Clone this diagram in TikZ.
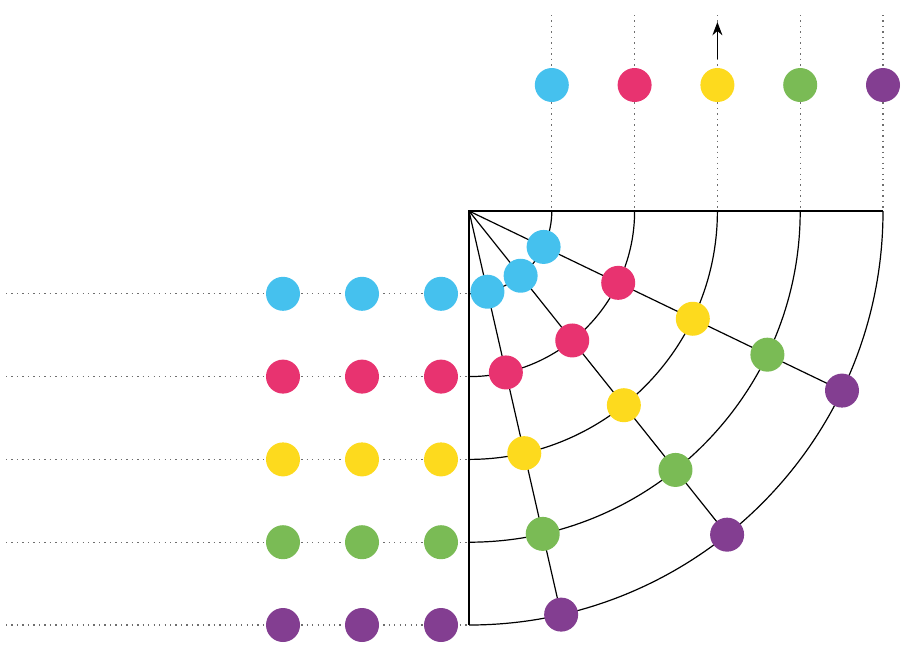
\documentclass[tikz,border=0pt]{standalone}
\usepackage{amsmath}
\usetikzlibrary{calc}
\usetikzlibrary{arrows.meta}

\begin{document}
\begin{tikzpicture}[x=0.75pt,y=0.75pt,yscale=-1,xscale=1,
  ball/.style={circle,inner sep=0pt,minimum size=25.5pt},
  blueball/.style={ball,fill={rgb, 255:red, 69; green, 193; blue, 238 }},
  redball/.style={ball,fill={rgb, 255:red, 232; green, 51; blue, 112 }},
  yellowball/.style={ball,fill={rgb, 255:red, 253; green, 218; blue, 30 }},
  greenball/.style={ball,fill={rgb, 255:red, 122; green, 187; blue, 85 }},
  purpleball/.style={ball,fill={rgb, 255:red, 131; green, 62; blue, 145 }},
  guide/.style={color={rgb, 255:red, 110; green, 110; blue, 110 },line width=0.9pt,dash pattern={on 1pt off 3.1pt}},
  frame/.style={line width=0.9pt}]
\useasboundingbox (0,0) rectangle (916,650);

% Corner of the quarter disc
\coordinate (O) at (469,211);
% Arc ends on the top edge
\coordinate (t1) at (551.8,211);
\coordinate (t2) at (634.6,211);
\coordinate (t3) at (717.4,211);
\coordinate (t4) at (800.2,211);
\coordinate (t5) at (883,211);
% Arc ends on the left edge
\coordinate (s1) at (469,293.8);
\coordinate (s2) at (469,376.6);
\coordinate (s3) at (469,459.4);
\coordinate (s4) at (469,542.2);
\coordinate (s5) at (469,625);
% Free ends of the guides
\coordinate (u1) at (551.8,15);
\coordinate (u2) at (634.6,15);
\coordinate (u3) at (717.4,15);
\coordinate (u4) at (800.2,15);
\coordinate (u5) at (883,15);
\coordinate (w1) at (6,293.8);
\coordinate (w2) at (6,376.6);
\coordinate (w3) at (6,459.4);
\coordinate (w4) at (6,542.2);
\coordinate (w5) at (6,625);
% Ends of the spokes on the outer arc
\coordinate (e1) at ($(O)+(25.71:414)$);
\coordinate (e2) at ($(O)+(51.43:414)$);
\coordinate (e3) at ($(O)+(77.14:414)$);

%Dotted Lines: vertical guides
\draw [guide] (u1) -- (t1) ;
\draw [guide] (u2) -- (t2) ;
\draw [guide] (u3) -- (t3) ;
\draw [guide] (u4) -- (t4) ;
\draw [guide] (u5) -- (t5) ;
%Dotted Lines: horizontal guides
\draw [guide] (w1) -- (s1) ;
\draw [guide] (w2) -- (s2) ;
\draw [guide] (w3) -- (s3) ;
\draw [guide] (w4) -- (s4) ;
\draw [guide] (w5) -- (s5) ;

%Straight Lines: edges of the quarter
\draw [frame] (t5) -- (O) -- (s5) ;
%Arcs
\draw [frame] (t1) arc [start angle=0, end angle=90, radius=82.8] ;
\draw [frame] (t2) arc [start angle=0, end angle=90, radius=165.6] ;
\draw [frame] (t3) arc [start angle=0, end angle=90, radius=248.4] ;
\draw [frame] (t4) arc [start angle=0, end angle=90, radius=331.2] ;
\draw [frame] (t5) arc [start angle=0, end angle=90, radius=414] ;
%Straight Lines: spokes
\draw [frame] (O) -- (e1) ;
\draw [frame] (O) -- (e2) ;
\draw [frame] (O) -- (e3) ;

%Shape: Circles on the top row
\node [blueball] (top1) at (551.8,85) {};
\node [redball] (top2) at (634.6,85) {};
\node [yellowball] (top3) at (717.4,85) {};
\node [greenball] (top4) at (800.2,85) {};
\node [purpleball] (top5) at (883,85) {};
% Arrow above the yellow circle
\coordinate (a0) at (717.4,59);
\coordinate (a1) at (717.4,22);
\draw [frame,line width=1.1pt,-{Stealth[length=10pt,width=7.5pt]}] (a0) -- (a1) ;

%Shape: Circles on the left, row 1
\node [blueball] (l11) at (283,293.8) {};
\node [blueball] (l12) at (362,293.8) {};
\node [blueball] (l13) at (441,293.8) {};
%Shape: Circles on the left, row 2
\node [redball] (l21) at (283,376.6) {};
\node [redball] (l22) at (362,376.6) {};
\node [redball] (l23) at (441,376.6) {};
%Shape: Circles on the left, row 3
\node [yellowball] (l31) at (283,459.4) {};
\node [yellowball] (l32) at (362,459.4) {};
\node [yellowball] (l33) at (441,459.4) {};
%Shape: Circles on the left, row 4
\node [greenball] (l41) at (283,542.2) {};
\node [greenball] (l42) at (362,542.2) {};
\node [greenball] (l43) at (441,542.2) {};
%Shape: Circles on the left, row 5
\node [purpleball] (l51) at (283,625) {};
\node [purpleball] (l52) at (362,625) {};
\node [purpleball] (l53) at (441,625) {};

%Shape: Circles on the first spoke
\node [blueball] (f11) at ($(O)+(25.71:82.8)$) {};
\node [redball] (f12) at ($(O)+(25.71:165.6)$) {};
\node [yellowball] (f13) at ($(O)+(25.71:248.4)$) {};
\node [greenball] (f14) at ($(O)+(25.71:331.2)$) {};
\node [purpleball] (f15) at ($(O)+(25.71:414)$) {};
%Shape: Circles on the second spoke
\node [blueball] (f21) at ($(O)+(51.43:82.8)$) {};
\node [redball] (f22) at ($(O)+(51.43:165.6)$) {};
\node [yellowball] (f23) at ($(O)+(51.43:248.4)$) {};
\node [greenball] (f24) at ($(O)+(51.43:331.2)$) {};
\node [purpleball] (f25) at ($(O)+(51.43:414)$) {};
%Shape: Circles on the third spoke
\node [blueball] (f31) at ($(O)+(77.14:82.8)$) {};
\node [redball] (f32) at ($(O)+(77.14:165.6)$) {};
\node [yellowball] (f33) at ($(O)+(77.14:248.4)$) {};
\node [greenball] (f34) at ($(O)+(77.14:331.2)$) {};
\node [purpleball] (f35) at ($(O)+(77.14:414)$) {};

\end{tikzpicture}
\end{document}
